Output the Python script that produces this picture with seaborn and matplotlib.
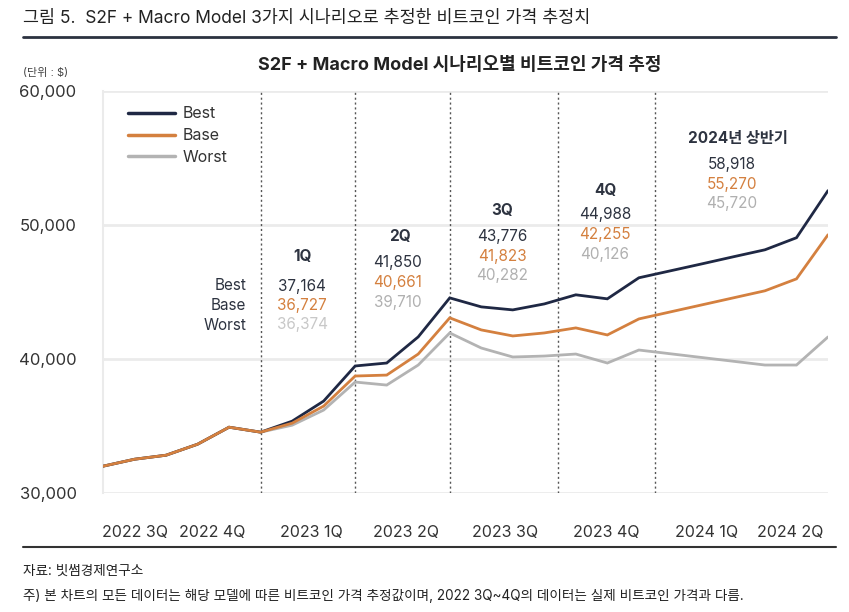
import matplotlib
matplotlib.use("Agg")
import matplotlib.pyplot as plt
import matplotlib.colors as mcolors
import seaborn as sns
import pandas as pd
import numpy as np

# ---- data (monthly, Jul 2022 .. Jun 2024) ----
common = [32000, 32520, 32820, 33640, 34910, 34540]
best_tail = [35360, 36860, 39480, 39700, 41650, 44560, 43890, 43665, 44110,
             44790, 44490, 46060, 46580, 47100, 47630, 48150, 49050, 52565]
base_tail = [35210, 36485, 38730, 38800, 40370, 43070, 42170, 41720, 41945,
             42320, 41795, 42990, 43515, 44040, 44565, 45090, 45980, 49270]
worst_tail = [35060, 36190, 38280, 38055, 39550, 41945, 40820, 40150, 40220,
              40370, 39700, 40670, 40390, 40110, 39830, 39550, 39550, 41645]
scenarios = ["Best", "Base", "Worst"]
tick_labels = ["2022 3Q", "2022 4Q", "2023 1Q", "2023 2Q",
               "2023 3Q", "2023 4Q", "2024 1Q", "2024 2Q"]
tick_pos = [1.0, 3.45, 6.6, 9.6, 12.75, 15.95, 19.15, 21.8]
divider_pos = [5, 8, 11, 14.45, 17.5]

periods = ["1Q", "2Q", "3Q", "4Q", "2024년 상반기"]
ann_best = ["37,164", "41,850", "43,776", "44,988", "58,918"]
ann_base = ["36,727", "40,661", "41,823", "42,255", "55,270"]
ann_worst = ["36,374", "39,710", "40,282", "40,126", "45,720"]

series = {"Best": common + best_tail, "Base": common + base_tail,
          "Worst": common + worst_tail}
rows = []
for s in scenarios:
    for i, v in enumerate(series[s]):
        rows.append({"idx": i, "value": v, "scenario": s})
df = pd.DataFrame(rows)

C_BEST, C_BASE, C_WORST = "#1f2844", "#d4803f", "#b3b3b3"
palette = {"Best": C_BEST, "Base": C_BASE, "Worst": C_WORST}
zorders = {"Best": 4, "Base": 5, "Worst": 3}

sns.set_theme(style="white")
plt.rcParams["font.family"] = ["Inter", "Noto Sans CJK KR", "DejaVu Sans"]
plt.rcParams["axes.unicode_minus"] = False

W, H = 849, 612
fig = plt.figure(figsize=(W / 100, H / 100), dpi=100)
L, R, T, B = 103, 828, 91, 493
ax = fig.add_axes([L / W, 1 - B / H, (R - L) / W, (B - T) / H])

sns.lineplot(data=df, x="idx", y="value", hue="scenario", hue_order=scenarios,
             palette=palette, linewidth=2.0, ax=ax, legend=False)
for ln in ax.lines:
    ln.set_solid_joinstyle("miter")
    col = mcolors.to_hex(ln.get_color())
    for s in scenarios:
        if col.lower() == palette[s].lower():
            ln.set_zorder(zorders[s])

ax.set_xlim(0, 23)
ax.set_ylim(30000, 60000)
ax.set_yticks([30000, 40000, 50000, 60000])
ax.set_yticklabels(["30,000", "40,000", "50,000", "60,000"])
ax.set_xticks(tick_pos)
ax.set_xticklabels(tick_labels)
ax.tick_params(axis="both", length=0, labelcolor="#333333")
ax.tick_params(axis="x", pad=23, labelsize=11.5)
ax.tick_params(axis="y", pad=19, labelsize=12)
ax.set_xlabel("")
ax.set_ylabel("")
for yv in [30000, 40000, 50000, 60000]:
    ax.axhline(yv, color="#ebebeb", lw=2, zorder=0)
for sp in ["top", "right", "bottom"]:
    ax.spines[sp].set_visible(False)
ax.spines["left"].set_color("#ebebeb")
ax.spines["left"].set_linewidth(1.5)
for xv in divider_pos:
    ax.axvline(xv, color="#555555", lw=1.0, ls=(0, (1.5, 2.0)), zorder=1)

# legend (manual handles)
from matplotlib.lines import Line2D
handles = [Line2D([], [], color=palette[s], lw=2.5) for s in scenarios]
leg = ax.legend(handles, scenarios, loc="upper left", frameon=False,
                bbox_to_anchor=((122 - L) / (R - L), 1 - (100 - T) / (B - T)),
                fontsize=11.5, handlelength=2.9, handletextpad=0.5,
                labelspacing=0.42, borderaxespad=0)
for t in leg.get_texts():
    t.set_color("#333333")


def ftxt(x, y, s, **kw):
    kw.setdefault("va", "center")
    return fig.text(x / W, 1 - y / H, s, **kw)


DARK = "#2d3340"
# header
ftxt(23, 19, "그림 5.  S2F + Macro Model 3가지 시나리오로 추정한 비트코인 가격 추정치",
     fontsize=12.5, color="#222222", ha="left")
fig.add_artist(Line2D([23 / W, 836 / W], [1 - 37 / H, 1 - 37 / H],
                      color="#2b3240", lw=2))
ftxt(460, 65, "S2F + Macro Model 시나리오별 비트코인 가격 추정",
     fontsize=13, fontweight="bold", color="#222222", ha="center")
ftxt(23, 73, "(단위 : $)", fontsize=8, color="#444444", ha="left")

# annotations
pos_head = [(302, 256), (400, 237), (502, 211), (605, 191), (738, 138)]
pos_nums = [(302, 286), (398, 263), (502, 237), (605, 215), (732, 165)]
dy = 19.5
for i in range(5):
    hx, hy = pos_head[i]
    ftxt(hx, hy, periods[i], fontsize=11, fontweight="bold", color=DARK,
         ha="center")
    nx, ny = pos_nums[i]
    ftxt(nx, ny, ann_best[i], fontsize=11, color=DARK, ha="center")
    ftxt(nx, ny + dy, ann_base[i], fontsize=11, color=C_BASE, ha="center")
    ftxt(nx, ny + 2 * dy, ann_worst[i], fontsize=11,
         color="#c8c8c8" if i == 0 else "#b0b0b0", ha="center")
for k, s in enumerate(scenarios):
    ftxt(246, 286 + k * dy, s, fontsize=11, color=DARK, ha="right")

# footer
fig.add_artist(Line2D([23 / W, 836 / W], [1 - 547 / H, 1 - 547 / H],
                      color="#333333", lw=1.5))
ftxt(23, 571, "자료: 빗썸경제연구소", fontsize=9.8, color="#222222", ha="left")
ftxt(23, 596, "주) 본 차트의 모든 데이터는 해당 모델에 따른 비트코인 가격 추정값이며, "
     "2022 3Q~4Q의 데이터는 실제 비트코인 가격과 다름.",
     fontsize=9.8, color="#222222", ha="left")

fig.savefig("out.png", dpi=100, facecolor="white")
